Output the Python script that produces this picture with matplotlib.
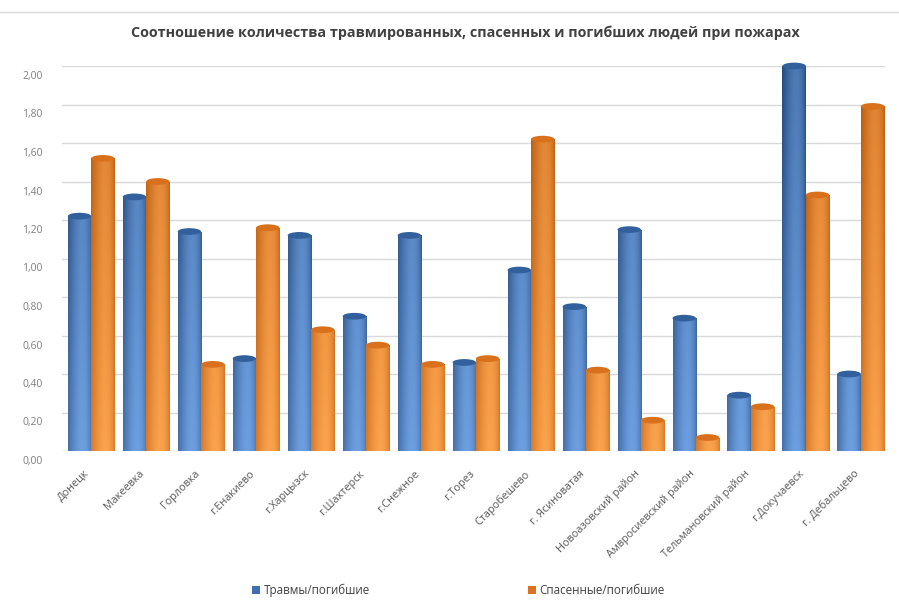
import numpy as np
import matplotlib
matplotlib.use("Agg")
import matplotlib.pyplot as plt
import matplotlib.colors as mcolors
import matplotlib.transforms as mtransforms
from matplotlib.patches import Ellipse
from matplotlib.lines import Line2D

plt.rcParams['font.family'] = ['Open Sans', 'DejaVu Sans']

categories = ['Донецк', 'Макеевка', 'Горловка', 'г.Енакиево', 'г.Харцызск',
              'г.Шахтерск', 'г.Снежное', 'г.Торез', 'Старобешево', 'г. Ясиноватая',
              'Новоазовский район', 'Амвросиевский район', 'Тельмановский район',
              'г.Докучаевск', 'г. Дебальцево']
injured = [1.22, 1.32, 1.14, 0.48, 1.12, 0.70, 1.12, 0.46, 0.94, 0.75,
           1.15, 0.69, 0.29, 2.00, 0.40]
rescued = [1.52, 1.40, 0.45, 1.16, 0.63, 0.55, 0.45, 0.48, 1.62, 0.42,
           0.16, 0.07, 0.23, 1.33, 1.79]
yticks = np.arange(0, 2.01, 0.2)

fig = plt.figure(figsize=(8.99, 6.05), dpi=100)
ax = fig.add_axes([62/899, 1-451/605, (885-62)/899, (451-66)/605])

x = np.arange(len(categories))
w = 0.425
b1 = ax.bar(x - w/2, injured, w, color='#3f6fae', label='Травмы/погибшие', zorder=2)
b2 = ax.bar(x + w/2, rescued, w, color='#d9731f', label='Спасенные/погибшие', zorder=2)


def shade(bars, dark, light, cap):
    dark = np.array(mcolors.to_rgb(dark))
    light = np.array(mcolors.to_rgb(light))
    X, Y = np.meshgrid(np.linspace(0, 1, 40), np.linspace(0, 1, 120))
    horiz = np.sin(np.pi * X ** 1.36) ** 0.7
    t = np.clip(0.55 * horiz + 0.45 * (1 - Y), 0, 1)
    img = dark + (light - dark) * t[..., None]
    for p in bars:
        x0, bw, h = p.get_x(), p.get_width(), p.get_height()
        im = ax.imshow(img, extent=(x0, x0 + bw, 0, 2.0), origin='lower',
                       aspect='auto', interpolation='bilinear', zorder=3)
        im.set_clip_path(p)
        ax.add_patch(Ellipse((x0 + bw/2, h), bw, 0.035, facecolor=cap,
                             edgecolor='none', zorder=4, clip_on=False))


shade(b1, '#254a7e', '#6d9fe0', '#31609c')
shade(b2, '#b85a0e', '#fba24c', '#d8701c')

ax.set_xlim(-0.53, 14.44)
ax.set_ylim(0, 2.0)
ax.set_yticks(yticks)
ax.set_yticklabels([f"{v:.2f}".replace('.', ',') for v in yticks])
ax.set_xticks(x)
ax.set_xticklabels(categories, rotation=45, ha='right', rotation_mode='anchor')
ax.tick_params(axis='y', length=0, pad=14, labelsize=7.5, labelcolor='#7f7f7f')
ax.tick_params(axis='x', length=0, pad=8, labelsize=7.8, labelcolor='#595959')
yoff = mtransforms.ScaledTranslation(0, -9/100, fig.dpi_scale_trans)
for lbl in ax.get_yticklabels():
    lbl.set_transform(lbl.get_transform() + yoff)
xoff = mtransforms.ScaledTranslation(-7/100, -6/100, fig.dpi_scale_trans)
for lbl in ax.get_xticklabels():
    lbl.set_transform(lbl.get_transform() + xoff)
ax.yaxis.grid(True, color='#d9d9d9', lw=1)
ax.set_axisbelow(True)
for s in ax.spines.values():
    s.set_visible(False)

fig.text(0.518, 1 - 33/605, 'Соотношение количества травмированных, спасенных и погибших людей при пожарах',
         ha='center', va='center', fontsize=10.3, fontweight='bold', color='#404040')
fig.add_artist(Line2D([0, 1], [1 - 12/605] * 2, color='#d9d9d9', lw=1))

fig.legend(handles=[b1, b2], loc='center', bbox_to_anchor=(0.51, 1 - 590/605), ncol=2,
           frameon=False, fontsize=8.4, handlelength=0.7, handleheight=0.7,
           handletextpad=0.3, columnspacing=13.5, labelcolor='#404040')

fig.savefig('out.png', dpi=100)
